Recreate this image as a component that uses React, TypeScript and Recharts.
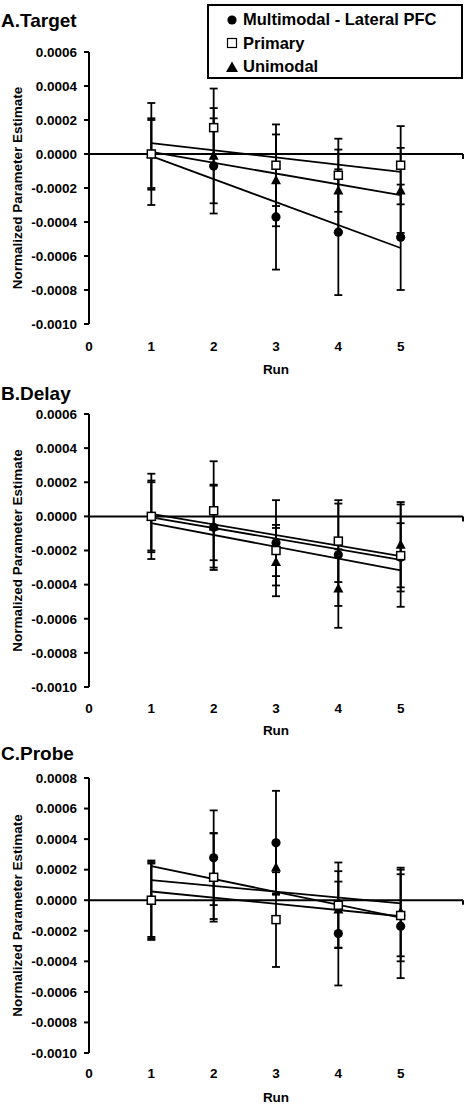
import React from 'react';
import { ComposedChart, Scatter, Line, XAxis, YAxis, ReferenceLine, ErrorBar, Legend } from 'recharts';

const runs = [1, 2, 3, 4, 5];
const runTicks = [0, 1, 2, 3, 4, 5];
const fitRuns = [1, 5];

// A. Target
const targetMulti = [0, -0.00007, -0.00037, -0.00046, -0.00049];
const targetMultiErr = [0.0003, 0.00028, 0.00031, 0.00037, 0.00031];
const targetPrimary = [0, 0.000155, -0.000066, -0.000125, -0.000066];
const targetPrimaryErr = [0.0002, 0.00023, 0.00024, 0.000215, 0.00023];
const targetUni = [0, -0.00001, -0.000155, -0.000214, -0.000214];
const targetUniErr = [0.00021, 0.00028, 0.00027, 0.00024, 0.00025];
const targetMultiFit = [-0.000013, -0.000553];
const targetPrimaryFit = [0.000064, -0.000105];
const targetUniFit = [0.000012, -0.000242];

// B. Delay
const delayMulti = [0, -0.000064, -0.000155, -0.000225, -0.00024];
const delayMultiErr = [0.00025, 0.00025, 0.00025, 0.0003, 0.0002];
const delayPrimary = [0, 0.000033, -0.0002, -0.000145, -0.00023];
const delayPrimaryErr = [0.0002, 0.00029, 0.00015, 0.00024, 0.0003];
const delayUni = [0, -0.00006, -0.000268, -0.000423, -0.000166];
const delayUniErr = [0.00021, 0.00024, 0.0002, 0.00023, 0.00025];
const delayMultiFit = [-0.000006, -0.000255];
const delayPrimaryFit = [0.000014, -0.000233];
const delayUniFit = [-0.00004, -0.000316];

// C. Probe
const probeMulti = [0, 0.000278, 0.000376, -0.000218, -0.00017];
const probeMultiErr = [0.00026, 0.00031, 0.00034, 0.00034, 0.00034];
const probePrimary = [0, 0.00015, -0.000127, -0.000033, -0.0001];
const probePrimaryErr = [0.00025, 0.00029, 0.00031, 0.00028, 0.0003];
const probeUni = [0, 0.000157, 0.000214, -0.00006, -0.000077];
const probeUniErr = [0.00024, 0.00028, 0.00017, 0.00025, 0.00029];
const probeMultiFit = [0.000223, -0.000114];
const probePrimaryFit = [0.000057, -0.000105];
const probeUniFit = [0.000131, -0.00002];

const ticksAB = [-0.001, -0.0008, -0.0006, -0.0004, -0.0002, 0, 0.0002, 0.0004, 0.0006];
const ticksC = [-0.001, -0.0008, -0.0006, -0.0004, -0.0002, 0, 0.0002, 0.0004, 0.0006, 0.0008];

const legendNames = ['Multimodal - Lateral PFC', 'Primary', 'Unimodal'];

const font = '"Liberation Sans", Arial, Helvetica, sans-serif';

const Dot = (p: any) => <circle cx={p.cx} cy={p.cy} r={4.6} fill="#000" />;
const Box = (p: any) => (
  <rect x={p.cx - 4} y={p.cy - 4} width={8} height={8} fill="#fff" stroke="#000" strokeWidth={1.5} />
);
const Tri = (p: any) => (
  <path d={`M${p.cx},${p.cy - 5.5} L${p.cx + 5},${p.cy + 4} L${p.cx - 5},${p.cy + 4} Z`} fill="#000" />
);

const rows = (vals: number[], errs: number[]) => runs.map((r, i) => ({ run: r, v: vals[i], e: errs[i] }));
const fitRows = (fit: number[]) => fitRuns.map((r, i) => ({ run: r, f: fit[i] }));

const LegendBox = () => (
  <div
    style={{
      border: '2px solid #000',
      boxSizing: 'border-box',
      width: 256,
      height: 75,
      padding: '2px 0 0 16px',
      fontFamily: font,
      fontWeight: 'bold',
      fontSize: 16.5,
      color: '#000',
      background: '#fff',
    }}
  >
    {legendNames.map((name, i) => (
      <div key={name} style={{ display: 'flex', alignItems: 'center', height: 23.5, lineHeight: '23.5px' }}>
        <svg width={14} height={14}>
          {i === 0 && <circle cx={7} cy={7} r={4.6} fill="#000" />}
          {i === 1 && <rect x={2.5} y={2.5} width={9} height={9} fill="#fff" stroke="#000" strokeWidth={1.2} />}
          {i === 2 && <path d="M7,1.5 L13,12 L1,12 Z" fill="#000" />}
        </svg>
        <span style={{ marginLeft: 4 }}>{name}</span>
      </div>
    ))}
  </div>
);

interface PanelProps {
  title: string;
  titleTop: number;
  top: number;
  marginTop: number;
  plotHeight: number;
  ticks: number[];
  multi: number[];
  multiErr: number[];
  primary: number[];
  primaryErr: number[];
  uni: number[];
  uniErr: number[];
  multiFit: number[];
  primaryFit: number[];
  uniFit: number[];
  runOffset: number;
  tickMargin: number;
  legend?: boolean;
}

const Panel = (p: PanelProps) => {
  const height = p.marginTop + p.plotHeight + 52;
  const tickStyle = { fontSize: 13.5, fontWeight: 'bold', fill: '#000', fontFamily: font };
  return (
    <>
      <div
        style={{
          position: 'absolute',
          left: 1,
          top: p.titleTop,
          fontFamily: font,
          fontWeight: 'bold',
          fontSize: 19,
          lineHeight: '19px',
          color: '#000',
        }}
      >
        {p.title}
      </div>
      <div style={{ position: 'absolute', left: 0, top: p.top }}>
        <ComposedChart width={469} height={height} margin={{ top: p.marginTop, right: 6, bottom: 0, left: 0 }}>
          <XAxis
            dataKey="run"
            type="number"
            domain={[0, 6]}
            ticks={runTicks}
            axisLine={false}
            tickLine={false}
            tickMargin={p.tickMargin}
            tick={tickStyle}
            height={52}
            label={{
              value: 'Run',
              position: 'insideBottom',
              offset: p.runOffset,
              style: { fontSize: 13.5, fontWeight: 'bold', fill: '#000', fontFamily: font },
            }}
          />
          <YAxis
            type="number"
            domain={[p.ticks[0], p.ticks[p.ticks.length - 1]]}
            ticks={p.ticks}
            width={89}
            tickSize={5}
            tickMargin={7}
            tick={tickStyle}
            tickFormatter={(v: number) => v.toFixed(4)}
            axisLine={{ stroke: '#000', strokeWidth: 2 }}
            tickLine={{ stroke: '#000', strokeWidth: 2 }}
            label={{
              value: 'Normalized Parameter Estimate',
              angle: -90,
              position: 'insideLeft',
              offset: 17,
              style: { textAnchor: 'middle', fontSize: 13.5, fontWeight: 'bold', fill: '#000', fontFamily: font },
            }}
          />
          <ReferenceLine y={0} stroke="#000" strokeWidth={2} />
          <ReferenceLine
            segment={[
              { x: 6, y: 0 },
              { x: 6, y: -0.00003 },
            ]}
            stroke="#000"
            strokeWidth={2}
          />
          <Line data={fitRows(p.multiFit)} dataKey="f" stroke="#000" strokeWidth={1.8} dot={false} isAnimationActive={false} />
          <Line data={fitRows(p.uniFit)} dataKey="f" stroke="#000" strokeWidth={1.8} dot={false} isAnimationActive={false} />
          <Line data={fitRows(p.primaryFit)} dataKey="f" stroke="#000" strokeWidth={1.8} dot={false} isAnimationActive={false} />
          <Scatter data={rows(p.multi, p.multiErr)} dataKey="v" shape={Dot} isAnimationActive={false}>
            <ErrorBar dataKey="e" direction="y" width={4} stroke="#000" strokeWidth={1.8} />
          </Scatter>
          <Scatter data={rows(p.uni, p.uniErr)} dataKey="v" shape={Tri} isAnimationActive={false}>
            <ErrorBar dataKey="e" direction="y" width={4} stroke="#000" strokeWidth={1.8} />
          </Scatter>
          <Scatter data={rows(p.primary, p.primaryErr)} dataKey="v" shape={Box} isAnimationActive={false}>
            <ErrorBar dataKey="e" direction="y" width={4} stroke="#000" strokeWidth={1.8} />
          </Scatter>
          {p.legend && (
            <Legend
              layout="horizontal"
              verticalAlign="middle"
              align="center"
              content={() => <LegendBox />}
              wrapperStyle={{ top: 4, left: 207, width: 256, height: 75 }}
            />
          )}
        </ComposedChart>
      </div>
    </>
  );
};

export default function App() {
  return (
    <div style={{ position: 'absolute', left: 0, top: 0, width: 469, height: 1108, background: '#fff', fontFamily: font }}>
      <Panel
        title="A.Target"
        titleTop={10.7}
        top={0}
        marginTop={52}
        plotHeight={272}
        ticks={ticksAB}
        multi={targetMulti}
        multiErr={targetMultiErr}
        primary={targetPrimary}
        primaryErr={targetPrimaryErr}
        uni={targetUni}
        uniErr={targetUniErr}
        multiFit={targetMultiFit}
        primaryFit={targetPrimaryFit}
        uniFit={targetUniFit}
        runOffset={2}
        tickMargin={11}
        legend
      />
      <Panel
        title="B.Delay"
        titleTop={383.7}
        top={380}
        marginTop={34}
        plotHeight={273}
        ticks={ticksAB}
        multi={delayMulti}
        multiErr={delayMultiErr}
        primary={delayPrimary}
        primaryErr={delayPrimaryErr}
        uni={delayUni}
        uniErr={delayUniErr}
        multiFit={delayMultiFit}
        primaryFit={delayPrimaryFit}
        uniFit={delayUniFit}
        runOffset={4}
        tickMargin={10}
      />
      <Panel
        title="C.Probe"
        titleTop={743.7}
        top={745}
        marginTop={33}
        plotHeight={275}
        ticks={ticksC}
        multi={probeMulti}
        multiErr={probeMultiErr}
        primary={probePrimary}
        primaryErr={probePrimaryErr}
        uni={probeUni}
        uniErr={probeUniErr}
        multiFit={probeMultiFit}
        primaryFit={probePrimaryFit}
        uniFit={probeUniFit}
        runOffset={3}
        tickMargin={9}
      />
    </div>
  );
}
